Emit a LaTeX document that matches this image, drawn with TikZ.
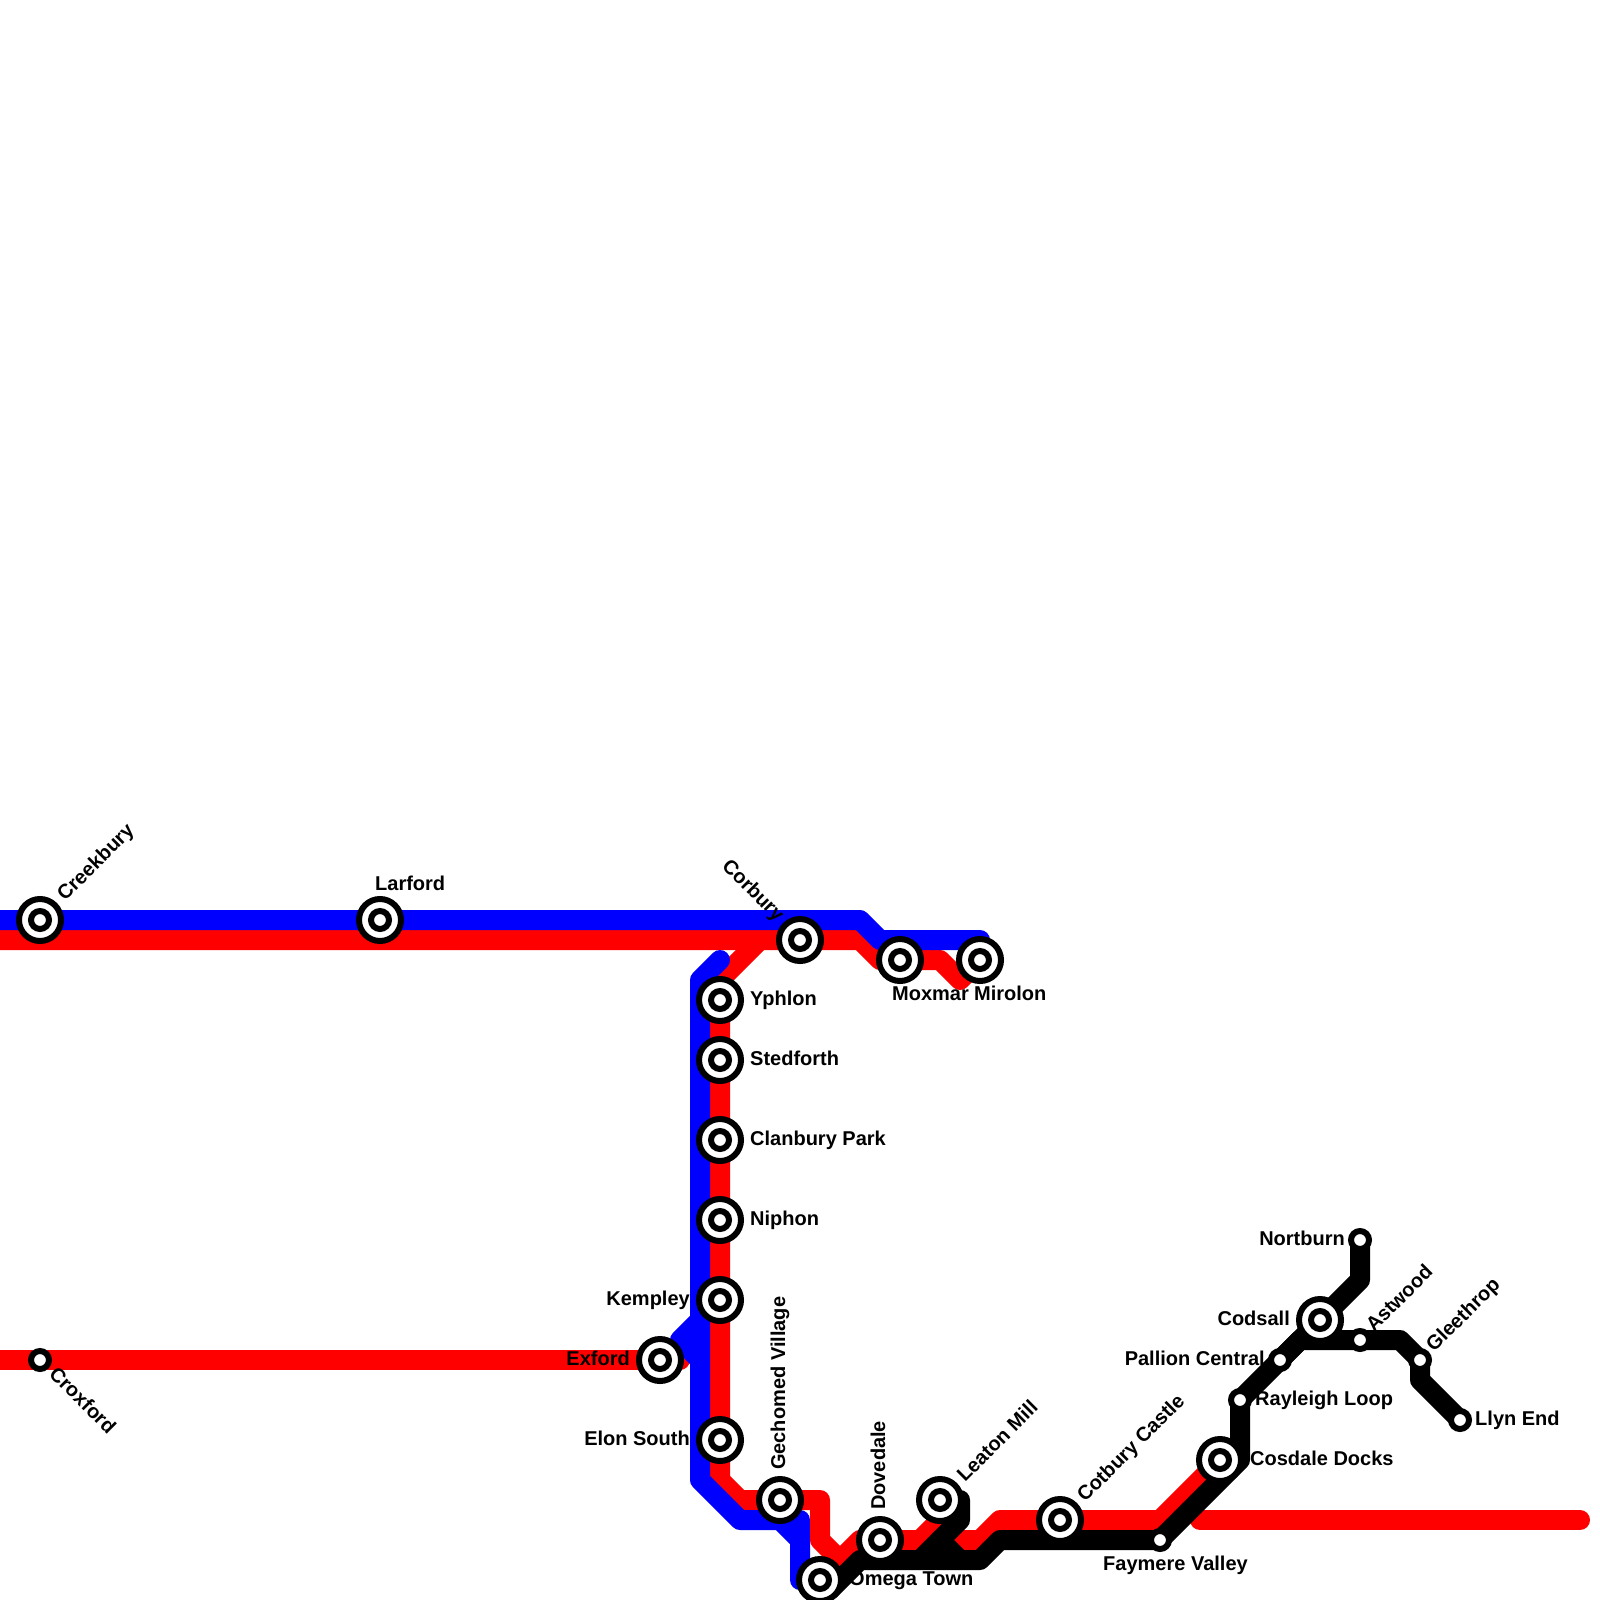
\documentclass[tikz,border=0pt]{standalone}
\usepackage{fontspec}
\setmainfont{Liberation Sans}
\usepackage{xcolor}
\usetikzlibrary{positioning}
\definecolor{linered}{HTML}{FF0000}
\definecolor{lineblue}{HTML}{0000FF}

\tikzset{
  routeline/.style={line width=20pt, line join=round, line cap=round},
  stopring/.style={circle, draw=black, fill=white, line width=6pt, inner sep=0pt, outer sep=0pt, minimum size=18pt},
  stopouter/.style={circle, draw=black, fill=white, line width=6pt, inner sep=0pt, outer sep=0pt, minimum size=42pt},
  stoplabel/.style={font=\fontsize{20}{24}\selectfont\bfseries, text=black, inner sep=0pt}
}

\begin{document}
\begin{tikzpicture}[x=1pt, y=-1pt]
  \useasboundingbox (0,0) rectangle (1600,1600);
  % stations
  \foreach \n/\x/\y in {creekbury/40/920, larford/380/920, corbury/800/940, moxmar/900/960,
    mirolon/980/960, yphlon/720/1000, stedforth/720/1060, clanbury/720/1140, niphon/720/1220,
    kempley/720/1300, exford/660/1360, elon/720/1440, gechomed/780/1500, omega/820/1580,
    dovedale/880/1540, leaton/940/1500, cotbury/1060/1520, faymere/1160/1540, cosdale/1220/1460,
    rayleigh/1240/1400, pallion/1280/1360, codsall/1320/1320, astwood/1360/1340,
    gleethrop/1420/1360, llyn/1460/1420, nortburn/1360/1240, croxford/40/1360}
    \coordinate (\n) at (\x,\y);
  % red line
  \draw[routeline, linered] (-20,940) -- (860,940) -- (880,960) -- (940,960) -- (960,980) -- (mirolon);
  \draw[routeline, linered] (760,940) -- (720,980) -- (720,1480) -- (740,1500) -- (820,1500)
    -- (820,1540) -- (840,1560) -- (omega) -- (860,1540) -- (920,1540) -- (940,1520) -- (960,1540)
    -- (980,1540) -- (1000,1520) -- (1160,1520) -- (cosdale);
  \draw[routeline, linered] (1200,1520) -- (1580,1520);
  \draw[routeline, linered] (-20,1360) -- (680,1360);
  % blue line
  \draw[routeline, lineblue] (-20,920) -- (860,920) -- (880,940) -- (980,940) -- (mirolon);
  \draw[routeline, lineblue] (720,960) -- (700,980) -- (700,1480) -- (740,1520) -- (780,1520)
    -- (800,1540) -- (800,1580);
  \draw[routeline, lineblue] (780,1520) -- (800,1520) -- (800,1540);
  \draw[routeline, lineblue] (700,1320) -- (680,1340) -- (700,1360);
  % black line
  \draw[routeline, black] (omega) -- (830,1590) -- (860,1560) -- (980,1560) -- (1000,1540) -- (faymere)
    -- (1240,1460) -- (rayleigh) -- (codsall) -- (1360,1280) -- (nortburn);
  \draw[routeline, black] (960,1500) -- (960,1520) -- (920,1560);
  \draw[routeline, black] (940,1540) -- (960,1560);
  \draw[routeline, black] (pallion) -- (1300,1340) -- (astwood) -- (1400,1340) -- (gleethrop)
    -- (1420,1380) -- (llyn);
  % big stops
  \foreach \n in {creekbury, larford, corbury, moxmar, mirolon, yphlon, stedforth, clanbury,
    niphon, kempley, exford, elon, gechomed, omega, dovedale, leaton, cotbury, cosdale, codsall}
    \node[stopouter] (\n big) at (\n) {};
  % all stops
  \foreach \n in {creekbury, larford, corbury, moxmar, mirolon, yphlon, stedforth, clanbury,
    niphon, kempley, exford, elon, gechomed, omega, dovedale, leaton, cotbury, cosdale, codsall,
    faymere, rayleigh, pallion, astwood, gleethrop, llyn, nortburn, croxford}
    \node[stopring] (\n stop) at (\n) {};
  % labels
  \node[stoplabel, anchor=base west, rotate=45] (lcreekbury) at (65,902) {Creekbury};
  \node[stoplabel, anchor=base west] (llarford) at (375,890) {Larford};
  \node[stoplabel, anchor=base west, rotate=-45] (lcorbury) at (721,867) {Corbury};
  \node[stoplabel, anchor=base west] (lmoxmar) at (892,1000) {Moxmar};
  \node[stoplabel, anchor=base west] (lmirolon) at (974,1000) {Mirolon};
  \node[stoplabel, anchor=base west] (lyphlon) at (750,1005) {Yphlon};
  \node[stoplabel, anchor=base west] (lstedforth) at (750,1065) {Stedforth};
  \node[stoplabel, anchor=base west] (lclanbury) at (750,1145) {Clanbury Park};
  \node[stoplabel, anchor=base west] (lniphon) at (750,1225) {Niphon};
  \node[stoplabel, anchor=base east] (lkempley) at (690,1305) {Kempley};
  \node[stoplabel, anchor=base east] (lexford) at (630,1365) {Exford};
  \node[stoplabel, anchor=base east] (lelon) at (690,1445) {Elon South};
  \node[stoplabel, anchor=base west, rotate=90] (lgechomed) at (785,1470) {Gechomed Village};
  \node[stoplabel, anchor=base west] (lomega) at (849,1585) {Omega Town};
  \node[stoplabel, anchor=base west, rotate=90] (ldovedale) at (885,1510) {Dovedale};
  \node[stoplabel, anchor=base west, rotate=45] (lleaton) at (965,1483) {Leaton Mill};
  \node[stoplabel, anchor=base west, rotate=45] (lcotbury) at (1085,1503) {Cotbury Castle};
  \node[stoplabel, anchor=base west] (lfaymere) at (1103,1570) {Faymere Valley};
  \node[stoplabel, anchor=base west] (lcosdale) at (1250,1465) {Cosdale Docks};
  \node[stoplabel, anchor=base west] (lrayleigh) at (1255,1405) {Rayleigh Loop};
  \node[stoplabel, anchor=base east] (lpallion) at (1265,1365) {Pallion Central};
  \node[stoplabel, anchor=base east] (lcodsall) at (1290,1325) {Codsall};
  \node[stoplabel, anchor=base west, rotate=45] (lastwood) at (1374,1333) {Astwood};
  \node[stoplabel, anchor=base west, rotate=45] (lgleethrop) at (1434,1353) {Gleethrop};
  \node[stoplabel, anchor=base west] (lllyn) at (1475,1425) {Llyn End};
  \node[stoplabel, anchor=base east] (lnortburn) at (1345,1245) {Nortburn};
  \node[stoplabel, anchor=base west, rotate=-45] (lcroxford) at (48,1375) {Croxford};
\end{tikzpicture}
\end{document}
